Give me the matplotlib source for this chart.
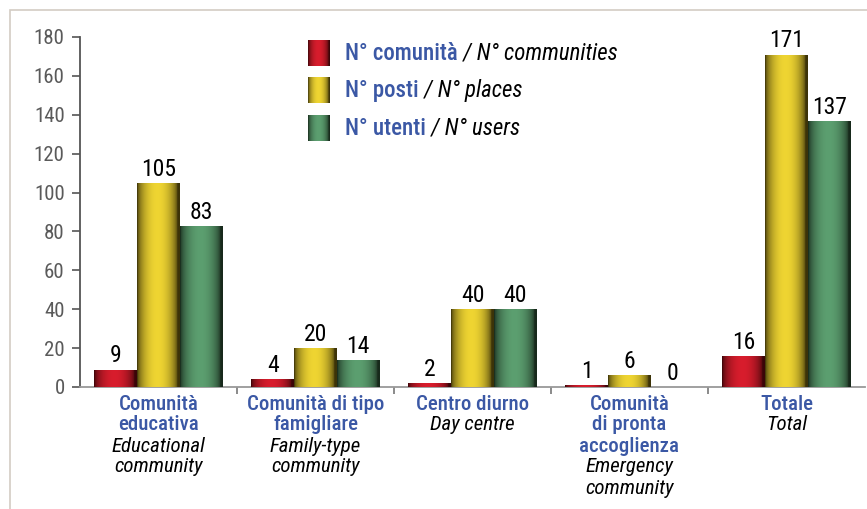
import numpy as np
import matplotlib
matplotlib.use("Agg")
import matplotlib.pyplot as plt
from matplotlib import font_manager
from matplotlib.patches import Rectangle
from matplotlib.transforms import blended_transform_factory, offset_copy

# ---------------- data ----------------
cat_it = [["Comunità", "educativa"],
          ["Comunità di tipo", "famigliare"],
          ["Centro diurno"],
          ["Comunità", "di pronta", "accoglienza"],
          ["Totale"]]
cat_en = [["Educational", "community"],
          ["Family-type", "community"],
          ["Day centre"],
          ["Emergency", "community"],
          ["Total"]]
series_it = ["N° comunità", "N° posti", "N° utenti"]
series_en = ["N° communities", "N° places", "N° users"]
communities = [9, 4, 2, 1, 16]
places = [105, 20, 40, 6, 171]
users = [83, 14, 40, 0, 137]
yticks = [0, 20, 40, 60, 80, 100, 120, 140, 160, 180]

# ---------------- style ----------------
def pick_font(cands):
    for c in cands:
        try:
            font_manager.findfont(c, fallback_to_default=False)
            return c
        except Exception:
            pass
    return "DejaVu Sans"

FONT = pick_font(["Liberation Sans Narrow", "Roboto Condensed", "Roboto", "Liberation Sans"])
plt.rcParams["font.family"] = [FONT, "DejaVu Sans"]

BLUE = "#3b58a5"
brights = ["#d81d2d", "#efd532", "#5c9f70"]
darks = ["#3a0508", "#3c3308", "#17291b"]

W, H = 867, 509
fig = plt.figure(figsize=(W / 100, H / 100), dpi=100)

def fx(x): return x / W
def fy(y): return 1 - y / H

# border frame
fig.patches.append(Rectangle((fx(10), fy(520)), fx(900), fy(10) - fy(520),
                             transform=fig.transFigure, fill=False,
                             edgecolor="#d3ccc4", linewidth=1.2))

ax = fig.add_axes([fx(80), fy(387), fx(865) - fx(80), fy(37) - fy(387)])

def gradient_img(bright, dark, n=64):
    t = np.linspace(0, 1, n)
    f = np.clip(np.sin(np.pi * np.clip(t * 1.05, 0, 1)), 0, 1) ** 0.55
    b = np.array(matplotlib.colors.to_rgb(bright))
    d = np.array(matplotlib.colors.to_rgb(dark))
    img = d[None, :] + (b - d)[None, :] * f[:, None]
    return img[None, :, :]

x = np.arange(len(communities))
bw = 0.272
all_series = [communities, places, users]
for i, vals in enumerate(all_series):
    pos = x + (i - 1) * bw
    bars = ax.bar(pos, vals, width=bw, color=brights[i], edgecolor="none", zorder=2)
    img = gradient_img(brights[i], darks[i])
    for p, v in zip(bars.patches, vals):
        if v > 0:
            im = ax.imshow(img, extent=[p.get_x(), p.get_x() + p.get_width(), 0, p.get_height()],
                           aspect="auto", zorder=3, interpolation="bilinear")
            im.set_clip_path(p)
        ax.annotate(str(v), (p.get_x() + p.get_width() / 2, v), xytext=(0, 1.5),
                    textcoords="offset points", ha="center", va="bottom",
                    fontsize=17, color="black", zorder=5)

ax.set_xlim(-0.5, len(communities) - 0.5)
ax.set_ylim(0, 180)
ax.set_yticks(yticks)
ax.set_yticklabels([str(v) for v in yticks], fontsize=15, color="#5a5a5a")
ax.tick_params(axis="y", direction="out", length=6, width=1.2, color="#555555", pad=5)
ax.set_xticks(x[:-1] + 0.5)
ax.set_xticklabels([])
ax.tick_params(axis="x", direction="out", length=5, width=1.2, color="#777777")
for s in ["top", "right"]:
    ax.spines[s].set_visible(False)
ax.spines["left"].set_color("#555555")
ax.spines["left"].set_linewidth(1.3)
ax.spines["bottom"].set_color("#999999")
ax.spines["bottom"].set_linewidth(1.3)
ax.set_facecolor("none")

# category labels
trans = blended_transform_factory(ax.transData, ax.transAxes)
for i in range(len(cat_it)):
    lines = [(t, BLUE, "normal") for t in cat_it[i]] + \
            [(t, "black", "italic") for t in cat_en[i]]
    for j, (t, c, st) in enumerate(lines):
        tr = offset_copy(trans, fig=fig, x=0, y=-(17 + 21 * j) * 72 / 100, units="points")
        ax.text(i, 0, t, transform=tr, ha="center", va="center", fontsize=15,
                color=c, style=st, fontweight="normal" if st == "italic" else "medium")

# legend
lax = fig.add_axes([0, 0, 1, 1])
lax.set_xlim(0, W)
lax.set_ylim(H, 0)
lax.axis("off")
lax.patch.set_alpha(0)
centers = [53, 90, 128]
for i in range(3):
    cy = centers[i]
    lax.imshow(gradient_img(brights[i], darks[i]), extent=[308, 330, cy + 13, cy - 13],
               aspect="auto", interpolation="bilinear")
    t1 = lax.text(345, cy, series_it[i], ha="left", va="center", fontsize=16.5,
                  color=BLUE, fontweight="medium")
    lax.annotate(" / " + series_en[i], xy=(1, 0.5), xycoords=t1, ha="left", va="center",
                 fontsize=16.5, color="black", style="italic")
lax.set_xlim(0, W)
lax.set_ylim(H, 0)

fig.savefig("out.png", dpi=100)
